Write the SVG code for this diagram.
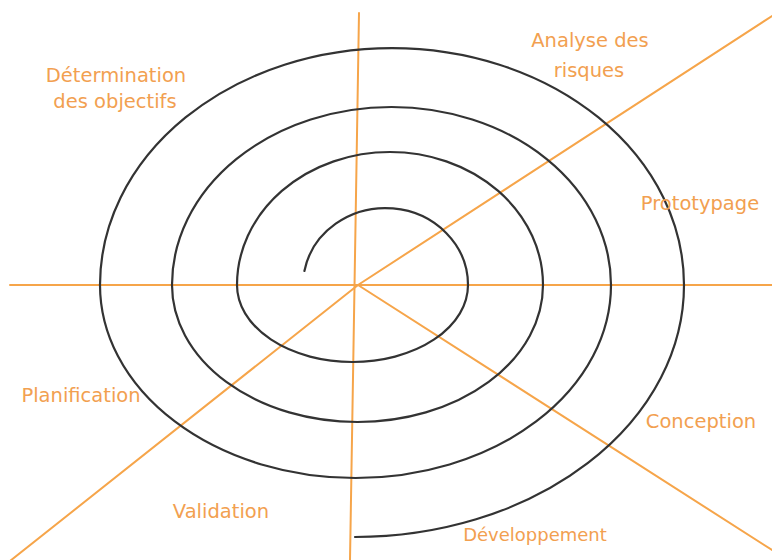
<svg xmlns="http://www.w3.org/2000/svg" width="772" height="560" viewBox="0 0 772 560">
<style>
.axis{stroke:#F6A54A;stroke-width:2;fill:none;stroke-linecap:round}
.spiral{stroke:#333333;stroke-width:2.2;fill:none;stroke-linecap:round}
.lbl{font-family:"DejaVu Sans",sans-serif;font-size:19.5px;fill:#F2A050;text-anchor:middle}
</style>
<rect width="772" height="560" fill="#ffffff"/>
<g id="connectors">
<line class="axis" x1="10" y1="285" x2="772" y2="285"/>
<line class="axis" x1="359" y1="13" x2="350" y2="560"/>
<line class="axis" x1="358" y1="285" x2="772" y2="16"/>
<line class="axis" x1="358" y1="285" x2="10" y2="561"/>
<line class="axis" x1="358" y1="285" x2="772" y2="550"/>
</g>
<g id="spiral">
<path class="spiral" d="M 304.4 271 A 82.5 77 0 0 1 468 285 A 115.5 77 0 0 1 237 285 A 153 133 0 0 1 543 285 A 185.5 137 0 0 1 172 285 A 219.5 178 0 0 1 611 285 A 255.5 193 0 0 1 100 285 A 292 237 0 0 1 684 285 A 329 252 0 0 1 355 537"/>
</g>
<g id="determination"><text class="lbl" x="116" y="82">Détermination</text><text class="lbl" x="115" y="108">des objectifs</text></g>
<g id="analyse"><text class="lbl" x="590" y="47">Analyse des</text><text class="lbl" x="589" y="77">risques</text></g>
<g id="prototypage"><text class="lbl" x="700" y="210">Prototypage</text></g>
<g id="planification"><text class="lbl" x="81" y="402">Planification</text></g>
<g id="validation"><text class="lbl" x="221" y="518">Validation</text></g>
<g id="conception"><text class="lbl" x="701" y="428">Conception</text></g>
<g id="developpement"><text class="lbl" x="535" y="541" style="font-size:18px">Développement</text></g>
</svg>
